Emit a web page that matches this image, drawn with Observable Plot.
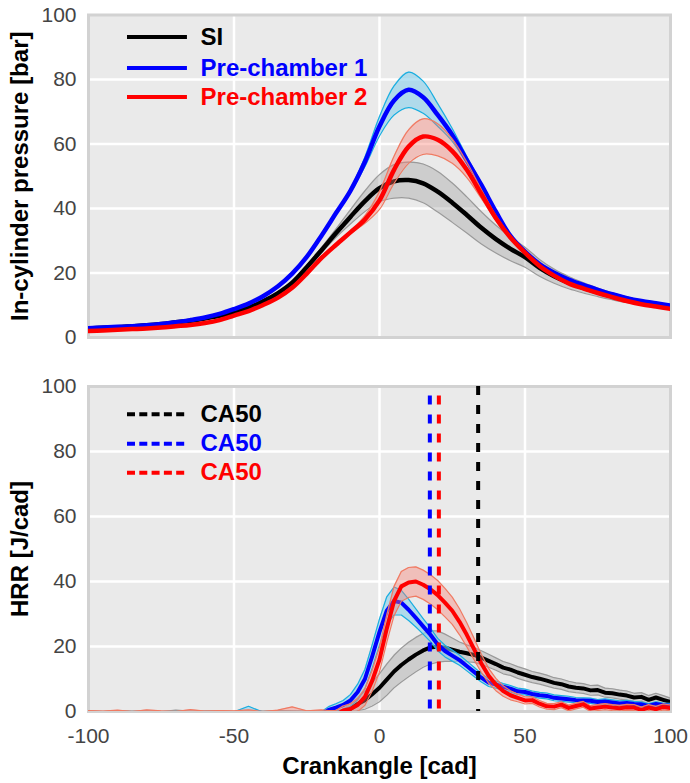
<!DOCTYPE html>
<html><head><meta charset="utf-8">
<script src="https://cdn.jsdelivr.net/npm/d3@7"></script>
<script src="https://cdn.jsdelivr.net/npm/@observablehq/plot@0.6"></script>
<style>
html,body{margin:0;padding:0;background:#fff;}
#chart svg{display:block;}
</style></head><body><div id="chart"></div>
<script>
// ---------- DATA ----------
const pressureX = [-100,-95,-90,-85,-80,-75,-70,-65,-60,-55,-50,-45,-40,-35,-30,-25,-20,-15,-10,-5,0,5,10,15,20,25,30,35,40,45,50,55,60,65,70,75,80,85,90,95,100];
const siP  = [2.8,3.0,3.2,3.5,3.8,4.2,4.7,5.2,5.9,6.7,7.8,9.2,11.2,13.7,17.0,21.8,27.0,32.3,37.4,42.3,46.3,48.4,48.8,47.8,45.2,41.8,38.0,34.0,30.5,27.5,24.9,21.6,19.0,17.0,15.4,14.0,12.8,11.7,10.8,10.1,9.6];
const siPStd = [0.2,0.2,0.2,0.2,0.2,0.2,0.2,0.2,0.2,0.2,0.2,0.2,0.2,0.2,0.3,0.5,0.8,1.3,2.2,3.2,4.2,5.2,5.6,6.0,6.3,6.1,5.6,5.0,4.3,3.7,3.1,2.6,2.2,1.9,1.6,1.3,1.1,0.9,0.7,0.6,0.5];
const pc1P = [2.9,3.1,3.3,3.5,3.8,4.2,4.7,5.4,6.2,7.3,8.8,10.5,12.8,15.8,19.8,25.0,31.5,38.5,45.5,54.5,65.5,73.5,76.8,74.5,69.0,62.8,55.0,47.3,39.0,31.5,26.6,22.8,20.1,18.0,16.3,14.8,13.4,12.2,11.3,10.6,9.9];
const pc1PStd = [0.15,0.15,0.15,0.15,0.15,0.15,0.15,0.15,0.15,0.15,0.15,0.15,0.15,0.15,0.15,0.15,0.15,0.3,0.6,1.5,3.0,4.5,5.5,5.0,3.5,2.0,1.1,0.6,0.4,0.3,0.3,0.3,0.3,0.3,0.3,0.3,0.3,0.3,0.3,0.3,0.3];
const pc2P = [2.0,2.2,2.4,2.6,2.8,3.1,3.5,3.9,4.5,5.4,6.8,8.2,10.1,12.3,15.4,19.8,24.6,28.7,32.6,36.6,42.5,52.0,59.2,62.3,61.3,57.8,52.0,44.5,37.0,31.0,26.3,22.2,19.2,16.8,15.2,13.8,12.5,11.3,10.3,9.6,8.9];
const pc2PStd = [0.15,0.15,0.15,0.15,0.15,0.15,0.15,0.15,0.15,0.15,0.15,0.15,0.15,0.15,0.15,0.15,0.15,0.15,0.4,1.2,2.8,4.2,5.2,5.5,5.0,3.8,2.4,1.4,0.8,0.5,0.3,0.3,0.3,0.3,0.3,0.3,0.3,0.3,0.3,0.3,0.3];

const hrrX = [-100,-95,-90,-85,-80,-75,-70,-65,-60,-55,-50,-45,-40,-35,-30,-25,-20,
  -17.5,-15,-12.5,-10,-7.5,-5,-2.5,0,2.5,5,7.5,10,12.5,15,17.5,20,22.5,25,27.5,30,32.5,35,37.5,40,
  42.5,45,47.5,50,52.5,55,57.5,60,62.5,65,67.5,70,72.5,75,77.5,80,82.5,85,87.5,90,92.5,95,97.5,100];
const siH = [-1,-1,-1,-1,-1,-1,-1,-1,-1,-1,-1,-1,-1,-1,-1,-1,-1,
  -1,-1,-0.8,0.8,2.3,3.5,5.3,7.3, 9.8,12.3,14.3,16.0,17.5,18.8,19.7,20.0, 19.6,19.0,18.4,17.9,17.4,16.6,15.6,14.6,
  13.5,12.9,12.0,11.3,10.6,10.1,9.5,8.8, 8.4,7.7,7.3,7.1,6.5,6.6,5.8,5.6, 5.2,4.9,4.3,4.5,3.6,4.3,3.6,2.9];
const siHStd = [1.2,1.0,1.3,1.1,1.2,1.0,1.4,1.1,1.2,1.3,1.0,1.2,1.1,1.3,1.2,1.1,1.2,
  1.2,1.3,1.5,1.6,2.0,2.8,3.6,4.3, 4.8,5.0,5.2,5.3,5.3,5.2,5.1,4.8, 4.2,3.6,3.0,2.6,2.3,2.1,2.0,1.9,
  1.9,1.8,1.8,1.8,1.7,1.7,1.7,1.6, 1.6,1.6,1.5,1.5,1.5,1.5,1.4,1.4, 1.4,1.4,1.3,1.3,1.3,1.3,1.3,1.2];
const pc1H = [-1,-1,-1,-1,-1,-1,-1,-1,-1,-1,-1,-1,-1,-1,-1,-1,-1,
  0.5,1.2,2.0,3.4,6.0,10.0,17.0,24.5, 31.0,34.0,33.5,31.3,28.8,26.2,23.6,20.6, 18.6,17.2,15.8,14.0,12.2,10.4,8.9,8.3,
  7.6,7.0,6.2,6.0,5.4,5.0,4.8,4.2, 4.0,3.8,3.5,3.4,3.3,2.9,3.1,2.8, 2.5,2.6,2.3,2.2,1.7,2.3,1.9,1.8];
const pc1HStd = [0.9,0.8,1.0,0.8,0.9,0.8,0.9,0.8,0.9,0.8,0.9,2.6,0.8,0.9,1.0,0.8,0.9,
  1.0,1.2,1.4,1.8,2.4,3.0,3.6,4.0, 4.3,4.3,3.8,3.3,2.8,2.4,2.1,1.9, 1.8,1.7,1.6,1.5,1.4,1.3,1.2,1.1,
  1.0,1.0,1.0,0.9,0.9,0.9,0.9,0.9, 0.9,0.9,0.8,0.8,0.8,0.8,0.8,0.8, 0.8,0.8,0.8,0.7,0.7,0.7,0.7,0.7];
const pc2H = [-1,-1,-1,-1,-1,-1,-1,-1,-1,-1,-1,-1,-1,-1,-1,-1,-1,
  -1,-1,0.3,0.8,2.0,4.5,9.5,16.0, 25.5,34.0,38.5,39.7,40.0,39.0,37.6,35.8, 33.5,31.0,27.6,23.6,19.2,14.8,11.0,8.3,
  6.3,5.0,4.2,3.4,3.5,2.4,1.6,1.5, 2.1,1.1,1.7,2.2,0.9,1.2,1.5,1.2, 1.0,1.3,1.2,0.5,1.2,0.7,1.4,1.1];
const pc2HStd = [1.3,1.1,1.4,1.0,1.5,1.2,1.0,1.6,1.1,1.3,1.2,1.5,1.0,1.4,2.4,1.2,1.5,
  1.3,1.3,1.4,1.6,2.0,2.6,3.2,3.8, 4.2,4.5,4.6,4.6,4.5,4.5,4.5,4.5, 4.4,4.2,4.0,3.7,3.3,2.8,2.3,1.9,
  1.6,1.4,1.2,1.1,1.0,1.0,0.9,0.9, 0.9,0.9,0.9,0.9,0.9,0.9,0.9,0.9, 0.9,0.9,0.9,0.9,0.9,0.9,0.9,0.9];

const ca50 = [33.9, 17.3, 20.4];   // SI, Pre-chamber 1, Pre-chamber 2
const seriesNames = ["SI", "Pre-chamber 1", "Pre-chamber 2"];
const ca50Labels = ["CA50", "CA50", "CA50"];
const xTicks = [-100, -50, 0, 50, 100];
const xGridTicks = [-50, 0, 50];
const yTicks = [0, 20, 40, 60, 80, 100];
const yGridTicks = [20, 40, 60, 80];
const xLabel = "Crankangle [cad]";
const yLabelTop = "In-cylinder pressure [bar]";
const yLabelBottom = "HRR [J/cad]";

// ---------- STYLE ----------
const styles = [
  {color: "#000000", band: "#808080", bandOpacity: 0.28, edge: "#9a9a9a"},
  {color: "#0000ff", band: "#87ceeb", bandOpacity: 0.6, edge: "#1aaee0"},
  {color: "#ff0000", band: "#fa8072", bandOpacity: 0.4, edge: "#f07a62"}
];
const FONT = "'Liberation Sans', Arial, Helvetica, sans-serif";

function rows(xs, mean, std) {
  return xs.map((x, i) => ({x, y: mean[i], lo: mean[i] - std[i], hi: mean[i] + std[i]}));
}
function seriesMarks(data, s, curve, lw) {
  return [
    Plot.areaY(data, {x: "x", y1: "lo", y2: "hi", fill: s.band, fillOpacity: s.bandOpacity, curve, clip: true}),
    Plot.lineY(data, {x: "x", y: "lo", stroke: s.edge, strokeWidth: 1.2, curve, clip: true}),
    Plot.lineY(data, {x: "x", y: "hi", stroke: s.edge, strokeWidth: 1.2, curve, clip: true}),
    Plot.lineY(data, {x: "x", y: "y", stroke: s.color, strokeWidth: lw, curve, clip: true, strokeLinejoin: "round"})
  ];
}
function background() {
  return [
    Plot.frame({fill: "#eaeaea"}),
    Plot.gridX(xGridTicks, {stroke: "#ffffff", strokeOpacity: 1, strokeWidth: 2.5}),
    Plot.gridY(yGridTicks, {stroke: "#ffffff", strokeOpacity: 1, strokeWidth: 2.5}),
    Plot.frame({stroke: "#d2d2d2", strokeWidth: 3})
  ];
}
const yAxis = () => Plot.axisY(yTicks, {tickSize: 0, tickPadding: 12, fontSize: 21, fill: "#444", label: null, tickFormat: d => String(d)});
const yLabelMark = (t) => Plot.text([t], {text: d => d, frameAnchor: "left", textAnchor: "middle", rotate: -90, dx: -68, fontSize: 24, fontWeight: "bold", fill: "#000"});

const common = {
  width: 690, marginLeft: 88, marginRight: 20,
  style: {fontFamily: FONT, background: "transparent", overflow: "visible"}
};

// legend layout (data coordinates of the panel)
const LEG = {x1: -86.6, x2: -66, tx: -61.5};
const legTopY = [93.2, 83.6, 74.6];
const legBotY = [91.5, 82.4, 73.5];

const pressureSeries = [siP, pc1P, pc2P].map((m, i) => rows(pressureX, m, [siPStd, pc1PStd, pc2PStd][i]));
const hrrSeries = [siH, pc1H, pc2H].map((m, i) => rows(hrrX, m, [siHStd, pc1HStd, pc2HStd][i]));

const topPlot = Plot.plot({
  ...common,
  height: 360, marginTop: 14.5, marginBottom: 23,
  x: {domain: [-100, 100], axis: null},
  y: {domain: [0, 100], axis: null},
  marks: [
    ...background(),
    ...pressureSeries.flatMap((d, i) => seriesMarks(d, styles[i], "catmull-rom", 4.5)),
    ...seriesNames.flatMap((name, i) => [
      Plot.ruleY([legTopY[i]], {x1: () => LEG.x1, x2: () => LEG.x2, stroke: styles[i].color, strokeWidth: 4}),
      Plot.text([name], {text: d => d, x: () => LEG.tx, y: () => legTopY[i], textAnchor: "start", fontSize: 24, fontWeight: "bold", fill: styles[i].color})
    ]),
    yAxis(),
    yLabelMark(yLabelTop)
  ]
});

const bottomPlot = Plot.plot({
  ...common,
  height: 423, marginTop: 26, marginBottom: 72,
  x: {domain: [-100, 100], axis: null},
  y: {domain: [0, 100], axis: null},
  marks: [
    ...background(),
    ...hrrSeries.flatMap((d, i) => seriesMarks(d, styles[i], "linear", 4)),
    ...ca50.map((v, i) => Plot.ruleX([v], {stroke: styles[i].color, strokeWidth: 4, strokeDasharray: "9,10", strokeDashoffset: i === 0 ? 0 : 9.5})),
    ...ca50Labels.flatMap((name, i) => [
      Plot.ruleY([legBotY[i]], {x1: () => LEG.x1, x2: () => LEG.x2, stroke: styles[i].color, strokeWidth: 4, strokeDasharray: "8,4.3"}),
      Plot.text([name], {text: d => d, x: () => LEG.tx, y: () => legBotY[i], textAnchor: "start", fontSize: 24, fontWeight: "bold", fill: styles[i].color})
    ]),
    yAxis(),
    Plot.axisX(xTicks, {tickSize: 0, tickPadding: 17, fontSize: 21, fill: "#444", label: null, tickFormat: d => String(d)}),
    yLabelMark(yLabelBottom),
    Plot.text([xLabel], {text: d => d, frameAnchor: "bottom", dy: 62, fontSize: 24, fontWeight: "bold", fill: "#000"})
  ]
});

document.getElementById("chart").append(topPlot, bottomPlot);
</script>
</body></html>
